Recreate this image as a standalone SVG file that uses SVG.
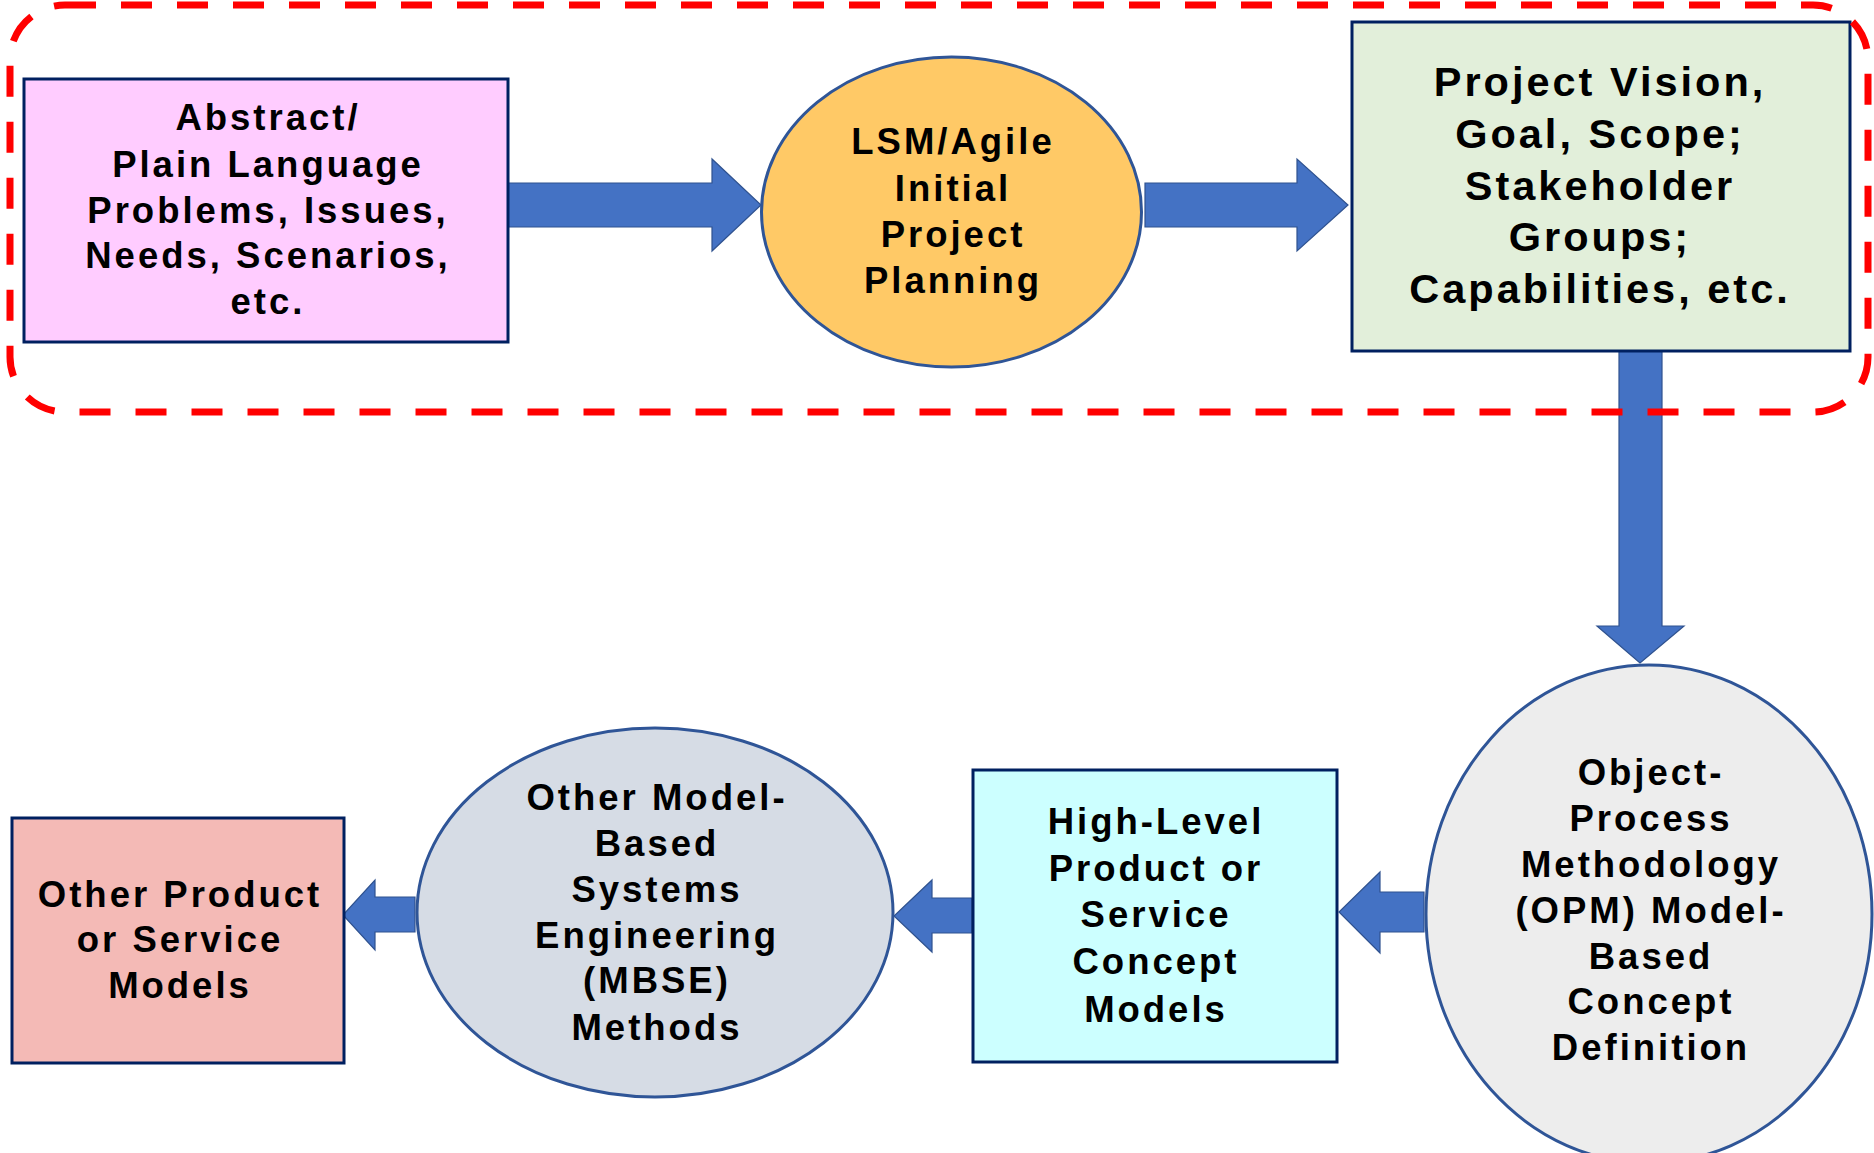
<svg xmlns="http://www.w3.org/2000/svg" width="1874" height="1153" viewBox="0 0 1874 1153">
<style>
.box{stroke:#002060;stroke-width:3}
.ell{stroke:#2F5597;stroke-width:3}
.arr{fill:#4472C4;stroke:#2F528F;stroke-width:1.2}
.t{font-family:"Liberation Sans",Arial,sans-serif;font-weight:bold;font-size:36.5px;letter-spacing:3px;fill:#000;text-anchor:middle}
.big{font-size:41.5px}
</style>
<rect width="1874" height="1153" fill="#fff"/>
<g id="connectors">
<polygon class="arr" points="508,183 712,183 712,159 761,205 712,251 712,227 508,227"/>
<polygon class="arr" points="1145,183 1297,183 1297,159 1348,205 1297,251 1297,227 1145,227"/>
<polygon class="arr" points="1619,351 1662,351 1662,626 1684,626 1640,663 1597,626 1619,626"/>
<polygon class="arr" points="1424,892 1380,892 1380,872 1339,912 1380,953 1380,932 1424,932"/>
<polygon class="arr" points="972,898 932,898 932,880 894,916 932,952 932,933 972,933"/>
<polygon class="arr" points="415,897 375,897 375,880 343,915 375,950 375,932 415,932"/>
</g>
<g id="node-abstract">
<rect class="box" x="24" y="79" width="484" height="263" fill="#FFCCFF"/>
<text class="t" x="268" y="130">Abstract/</text>
<text class="t" x="268" y="177">Plain Language</text>
<text class="t" x="268" y="223">Problems, Issues,</text>
<text class="t" x="268" y="268">Needs, Scenarios,</text>
<text class="t" x="268" y="314">etc.</text>
</g>
<g id="node-lsm">
<ellipse class="ell" cx="951.5" cy="212" rx="190" ry="155" fill="#FFC966"/>
<text class="t" x="953" y="154">LSM/Agile</text>
<text class="t" x="953" y="201">Initial</text>
<text class="t" x="953" y="247">Project</text>
<text class="t" x="953" y="293">Planning</text>
</g>
<g id="node-vision">
<rect class="box" x="1352" y="22" width="498" height="329" fill="#E2EFDA"/>
<text class="t big" x="1600" y="96">Project Vision,</text>
<text class="t big" x="1600" y="148">Goal, Scope;</text>
<text class="t big" x="1600" y="200">Stakeholder</text>
<text class="t big" x="1600" y="251">Groups;</text>
<text class="t big" x="1600" y="303">Capabilities, etc.</text>
</g>
<g id="node-opm">
<ellipse class="ell" cx="1649" cy="914" rx="223" ry="249" fill="#EDEDED"/>
<text class="t" x="1651" y="785">Object-</text>
<text class="t" x="1651" y="831">Process</text>
<text class="t" x="1651" y="877">Methodology</text>
<text class="t" x="1651" y="923">(OPM) Model-</text>
<text class="t" x="1651" y="969">Based</text>
<text class="t" x="1651" y="1014">Concept</text>
<text class="t" x="1651" y="1060">Definition</text>
</g>
<g id="node-highlevel">
<rect class="box" x="973" y="770" width="364" height="292" fill="#CCFFFF"/>
<text class="t" x="1156" y="834">High-Level</text>
<text class="t" x="1156" y="881">Product or</text>
<text class="t" x="1156" y="927">Service</text>
<text class="t" x="1156" y="974">Concept</text>
<text class="t" x="1156" y="1022">Models</text>
</g>
<g id="node-mbse">
<ellipse class="ell" cx="655" cy="912.5" rx="238" ry="184.5" fill="#D6DCE5"/>
<text class="t" x="657" y="810">Other Model-</text>
<text class="t" x="657" y="856">Based</text>
<text class="t" x="657" y="902">Systems</text>
<text class="t" x="657" y="948">Engineering</text>
<text class="t" x="657" y="993">(MBSE)</text>
<text class="t" x="657" y="1040">Methods</text>
</g>
<g id="node-other">
<rect class="box" x="12" y="818" width="332" height="245" fill="#F4BAB6"/>
<text class="t" x="180" y="907">Other Product</text>
<text class="t" x="180" y="952">or Service</text>
<text class="t" x="180" y="998">Models</text>
</g>
<g id="group-boundary">
<rect x="10" y="5" width="1858" height="407" rx="55" ry="55" fill="none" stroke="#FF0000" stroke-width="7" stroke-dasharray="31 25"/>
</g>
</svg>
